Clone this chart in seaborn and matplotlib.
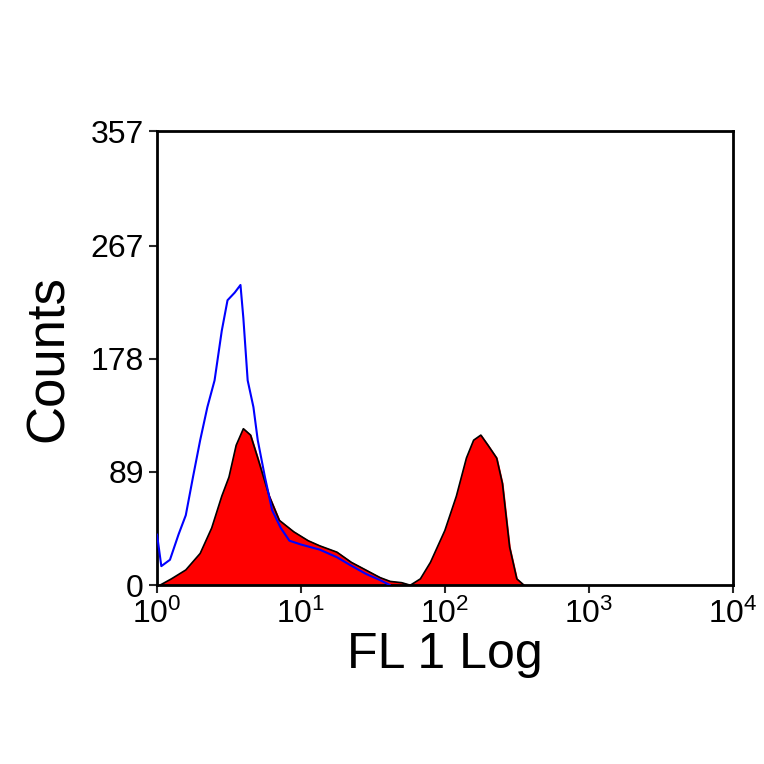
import matplotlib
matplotlib.use("Agg")
import matplotlib.pyplot as plt
import seaborn as sns
import numpy as np
import pandas as pd

red_logx = [0.02,0.1,0.2,0.3,0.38,0.45,0.5,0.55,0.6,0.65,0.7,0.78,0.85,0.95,1.05,1.13,1.25,1.35,1.45,1.55,1.62,1.7,1.76,1.83,1.9,2.0,2.08,2.15,2.2,2.25,2.3,2.36,2.4,2.45,2.5,2.55]
red_counts = [0,5,12,25,45,70,85,110,123,118,100,70,51,42,35,31,26,18,12,6,3,2,0,5,18,43,70,100,114,118,110,100,80,30,5,0]
blue_logx = [0.0,0.03,0.09,0.15,0.2,0.25,0.3,0.35,0.4,0.45,0.49,0.54,0.58,0.6,0.63,0.67,0.7,0.75,0.8,0.86,0.92,1.0,1.13,1.25,1.34,1.45,1.55,1.62]
blue_counts = [40,15,20,40,55,85,114,140,161,200,224,230,236,210,161,140,114,85,59,45,35,32,28,22,16,9,4,0]
yticks = [0,89,178,267,357]

sns.set_style("white")
plt.rcParams['font.family'] = ['Liberation Sans', 'DejaVu Sans']
plt.rcParams['mathtext.fontset'] = 'custom'
plt.rcParams['mathtext.rm'] = 'Liberation Sans'
plt.rcParams['mathtext.it'] = 'Liberation Sans'
fig = plt.figure(figsize=(7.64,7.64), dpi=100)
ax = fig.add_axes([0.2055,0.234,0.7535,0.5945])
rx = 10**np.array(red_logx)
ax.fill_between(rx, red_counts, color="red", zorder=2)
sns.lineplot(x=rx, y=red_counts, color="black", lw=1.2, ax=ax, zorder=3)
sns.lineplot(x=10**np.array(blue_logx), y=blue_counts, color="blue", lw=1.5, ax=ax, zorder=4)
ax.set_xscale("log")
ax.set_xlim(1,1e4)
ax.set_ylim(0,357)
ax.set_yticks(yticks)
ax.set_yticklabels([str(v) for v in yticks], fontsize=23, color="black")
ax.set_xticks([1,10,100,1000,10000])
ax.set_xticklabels([r"$10^0$",r"$10^1$",r"$10^2$",r"$10^3$",r"$10^4$"], fontsize=23, color="black")
ax.minorticks_off()
ax.tick_params(direction="out", length=6, width=1.5, left=True, bottom=True)
for s in ax.spines.values():
    s.set_linewidth(2); s.set_color("black")
ax.set_xlabel("FL 1 Log", fontsize=36, color="black", labelpad=2)
ax.set_ylabel("Counts", fontsize=38, color="black", labelpad=12)
fig.savefig("out.png", dpi=100)
